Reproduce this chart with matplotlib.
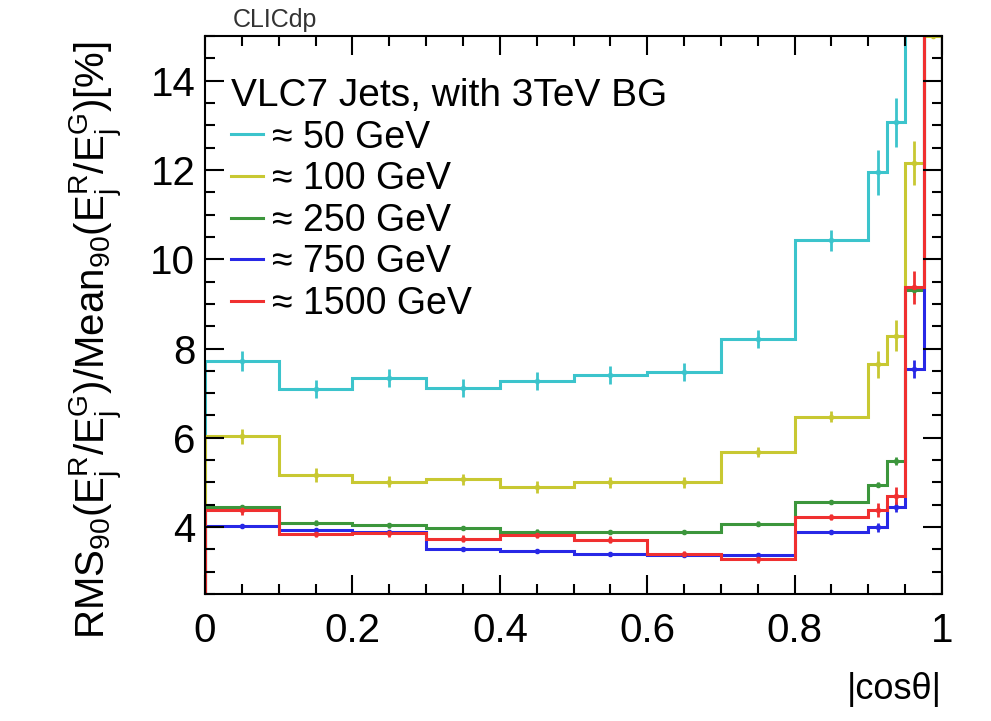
import numpy as np
import matplotlib
matplotlib.use("Agg")
import matplotlib.pyplot as plt
from matplotlib.ticker import MultipleLocator

plt.rcParams['font.family'] = ['Liberation Sans', 'DejaVu Sans']
plt.rcParams['mathtext.fontset'] = 'custom'
plt.rcParams['mathtext.rm'] = 'Liberation Sans'
plt.rcParams['mathtext.it'] = 'Liberation Sans:italic'
plt.rcParams['mathtext.default'] = 'regular'

# |cos theta| bin edges (fine binning in the forward region)
edges = [0, 0.1, 0.2, 0.3, 0.4, 0.5, 0.6, 0.7, 0.8, 0.9, 0.925, 0.95, 0.975, 1.0]

# RMS90/Mean90 [%] per bin (values > 15 are off the frame)
res_50 = [7.72, 7.09, 7.34, 7.12, 7.27, 7.41, 7.48, 8.21, 10.42, 11.95, 13.07, 20, 20]
err_50 = [0.22, 0.2, 0.2, 0.2, 0.2, 0.2, 0.2, 0.2, 0.24, 0.5, 0.55, 0, 0]
res_100 = [6.03, 5.17, 5.02, 5.07, 4.90, 5.0, 5.0, 5.68, 6.47, 7.65, 8.29, 12.15, 15.0]
err_100 = [0.17, 0.15, 0.13, 0.13, 0.13, 0.12, 0.12, 0.12, 0.12, 0.3, 0.34, 0.49, 0]
res_250 = [4.45, 4.10, 4.04, 3.98, 3.90, 3.89, 3.89, 4.08, 4.56, 4.95, 5.48, 9.3, 20]
err_250 = [0.05, 0.05, 0.05, 0.05, 0.05, 0.05, 0.05, 0.05, 0.05, 0.06, 0.08, 0.1, 0]
res_750 = [4.02, 3.93, 3.89, 3.51, 3.47, 3.40, 3.38, 3.38, 3.89, 4.00, 4.45, 7.54, 20]
err_750 = [0.05, 0.05, 0.05, 0.05, 0.05, 0.05, 0.05, 0.05, 0.05, 0.1, 0.12, 0.2, 0]
res_1500 = [4.38, 3.85, 3.86, 3.74, 3.83, 3.72, 3.40, 3.28, 4.23, 4.38, 4.70, 9.37, 20]
err_1500 = [0.1, 0.08, 0.08, 0.08, 0.08, 0.08, 0.07, 0.08, 0.07, 0.15, 0.2, 0.37, 0]

labels = ['≈ 50 GeV', '≈ 100 GeV', '≈ 250 GeV', '≈ 750 GeV', '≈ 1500 GeV']
colors = ['#3cc4cc', '#c8c832', '#3c963c', '#2828e6', '#f03030']

xticks = [0, 0.2, 0.4, 0.6, 0.8, 1.0]
xtick_labels = ['0', '0.2', '0.4', '0.6', '0.8', '1']
yticks = [4, 6, 8, 10, 12, 14]

fig = plt.figure(figsize=(9.91, 7.21), dpi=100)
ax = fig.add_axes([0.2069, 0.1761, 0.7437, 0.7739])

edges_arr = np.array(edges)
centers = 0.5 * (edges_arr[:-1] + edges_arr[1:])
series = [(res_50, err_50), (res_100, err_100), (res_250, err_250),
          (res_750, err_750), (res_1500, err_1500)]

for (vals, errs), lab, col in zip(series, labels, colors):
    ax.stairs(vals, edges, baseline=0, color=col, lw=2.2, label=lab)
    ax.errorbar(centers, vals, yerr=errs, fmt='o', ms=3, color=col,
                elinewidth=2.0, capsize=0)

ax.set_xlim(0, 1)
ax.set_ylim(2.5, 15)
ax.set_xticks(xticks, labels=xtick_labels)
ax.set_yticks(yticks)
ax.xaxis.set_minor_locator(MultipleLocator(0.05))
ax.yaxis.set_minor_locator(MultipleLocator(0.5))
ax.tick_params(which='both', direction='in', top=True, right=True, width=1.5)
ax.tick_params(which='major', length=14)
ax.tick_params(which='minor', length=7)
ax.tick_params(axis='x', labelsize=29, pad=13)
ax.tick_params(axis='y', labelsize=29, pad=7)
for s in ax.spines.values():
    s.set_linewidth(1.5)

ax.set_ylabel(r'RMS$_{90}$(E$^{R}_{j}$/E$^{G}_{j}$)/Mean$_{90}$(E$^{R}_{j}$/E$^{G}_{j}$)[%]',
              fontsize=29)
ax.yaxis.set_label_coords(-0.11, 0.455)
ax.set_xlabel('|cosθ|', fontsize=26, ha='right')
ax.xaxis.set_label_coords(1.0, -0.14)

ax.text(0.038, 1.016, 'CLICdp', transform=ax.transAxes, fontsize=18,
        color='#333333', va='baseline', ha='left')

leg = ax.legend(title='VLC7 Jets, with 3TeV BG', loc='upper left',
                bbox_to_anchor=(0.035, 0.925), frameon=False, fontsize=27,
                title_fontsize=28, alignment='left', handlelength=0.85,
                handletextpad=0.25, labelspacing=0.15, borderpad=0,
                borderaxespad=0)

fig.savefig('out.png', dpi=100)
